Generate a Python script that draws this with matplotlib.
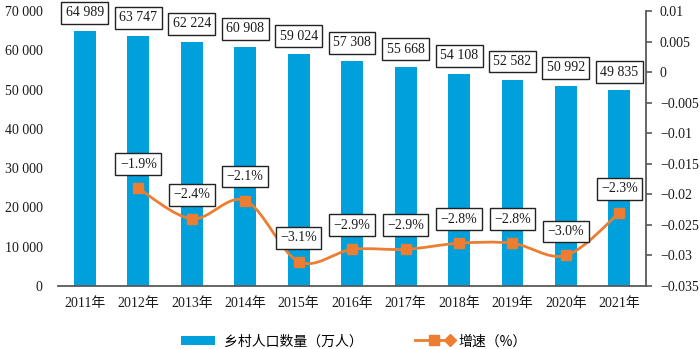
import matplotlib
matplotlib.use("Agg")
import matplotlib.pyplot as plt
import numpy as np
from matplotlib.path import Path
from matplotlib.patches import PathPatch, Rectangle
from matplotlib.lines import Line2D
from matplotlib.legend_handler import HandlerBase

plt.rcParams['font.family'] = ['Liberation Serif', 'Noto Sans CJK SC', 'DejaVu Sans']
plt.rcParams['font.size'] = 10

years = ['2011年', '2012年', '2013年', '2014年', '2015年', '2016年',
         '2017年', '2018年', '2019年', '2020年', '2021年']
rural_pop = [64989, 63747, 62224, 60908, 59024, 57308, 55668, 54108, 52582, 50992, 49835]
growth = [-0.019, -0.024, -0.021, -0.031, -0.029, -0.029, -0.028, -0.028, -0.030, -0.023]
growth_years = years[1:]

bar_color = '#00A0DC'
line_color = '#ED7D31'
axis_color = '#595959'
text_color = '#1a1a1a'

fig = plt.figure(figsize=(7, 3.49), dpi=100)
ax = fig.add_axes([0.083, 0.1805, 0.840, 0.7875])
ax2 = ax.twinx()

x = np.arange(len(years))
ax.bar(x, rural_pop, width=0.41, color=bar_color, zorder=2)
ax.set_xlim(-0.5, len(years) - 0.5)
ax.set_ylim(0, 70000)
ax.set_yticks(np.arange(0, 70001, 10000))
ax.set_yticklabels([f"{int(v):,}".replace(',', ' ') for v in ax.get_yticks()])
ax.set_xticks(x)
ax.set_xticklabels(years)
ax.tick_params(axis='y', length=0, pad=11, labelcolor=text_color)
ax.tick_params(axis='x', length=0, pad=8, labelcolor=text_color)
for s in ['left', 'top', 'right']:
    ax.spines[s].set_visible(False)
ax.spines['bottom'].set_color(axis_color)
ax.spines['bottom'].set_linewidth(1.3)
ax.spines['bottom'].set_zorder(5)

for xi, v in zip(x, rural_pop):
    ax.annotate(f"{v:,}".replace(',', ' '), (xi, v), xytext=(0, 18),
                textcoords='offset pixels', ha='center', va='center',
                color=text_color, zorder=6,
                bbox=dict(boxstyle='square,pad=0.32', fc='white', ec='#222222', lw=1.0))

# growth rate on the right axis, smoothed line through the points
gx = x[1:].astype(float)
gy = np.array(growth)
verts = [(gx[0], gy[0])]
codes = [Path.MOVETO]
n = len(gx)
for i in range(n - 1):
    p0 = np.array([gx[max(i - 1, 0)], gy[max(i - 1, 0)]])
    p1 = np.array([gx[i], gy[i]])
    p2 = np.array([gx[i + 1], gy[i + 1]])
    p3 = np.array([gx[min(i + 2, n - 1)], gy[min(i + 2, n - 1)]])
    c1 = p1 + (p2 - p0) / 6
    c2 = p2 - (p3 - p1) / 6
    verts += [tuple(c1), tuple(c2), tuple(p2)]
    codes += [Path.CURVE4] * 3
ax2.add_patch(PathPatch(Path(verts, codes), fill=False, ec=line_color, lw=2, zorder=3))
ax2.plot(gx, gy, linestyle='none', marker='s', markersize=7.5, color=line_color, zorder=4)

ax2.set_ylim(-0.035, 0.01)
rticks = [0.01, 0.005, 0, -0.005, -0.01, -0.015, -0.02, -0.025, -0.03, -0.035]
ax2.set_yticks(rticks)
ax2.set_yticklabels([f"{v:g}".replace('-', '\u2212') for v in rticks])
ax2.tick_params(axis='y', direction='out', length=4, width=1.2, color=axis_color,
                pad=6, labelcolor=text_color)
for s in ['left', 'top', 'bottom']:
    ax2.spines[s].set_visible(False)
ax2.spines['right'].set_color(axis_color)
ax2.spines['right'].set_linewidth(1.3)

for xi, v in zip(gx, gy):
    ax2.annotate(f"\u2212{abs(v) * 100:.1f}%", (xi, v), xytext=(0, 24),
                 textcoords='offset pixels', ha='center', va='center',
                 color=text_color, zorder=6,
                 bbox=dict(boxstyle='square,pad=0.32', fc='white', ec='#222222', lw=1.0))


class LineSquareDiamond(HandlerBase):
    def create_artists(self, legend, orig_handle, xdescent, ydescent,
                       width, height, fontsize, trans):
        y0 = height / 2 - ydescent
        line = Line2D([-xdescent, width - xdescent], [y0, y0], color=line_color, lw=2,
                      transform=trans)
        sq = Line2D([-xdescent + width * 0.55], [y0], marker='s', markersize=7,
                    color=line_color, linestyle='none', transform=trans)
        dm = Line2D([width - xdescent], [y0], marker='D', markersize=6.5,
                    color=line_color, linestyle='none', transform=trans)
        return [line, sq, dm]


bar_handle = Rectangle((0, 0), 1, 1, fc=bar_color, ec='none')
line_handle = Line2D([], [], color=line_color)
fig.legend([bar_handle, line_handle], ['乡村人口数量（万人）', '增速（%）'],
           handler_map={Line2D: LineSquareDiamond()},
           loc='center', bbox_to_anchor=(0.505, 0.022), ncol=2, frameon=False,
           handlelength=2.5, handleheight=0.6, handletextpad=0.6, columnspacing=3.8,
           prop={'family': ['Noto Sans CJK SC', 'DejaVu Sans'], 'size': 10})

fig.savefig('out.png', dpi=100)
